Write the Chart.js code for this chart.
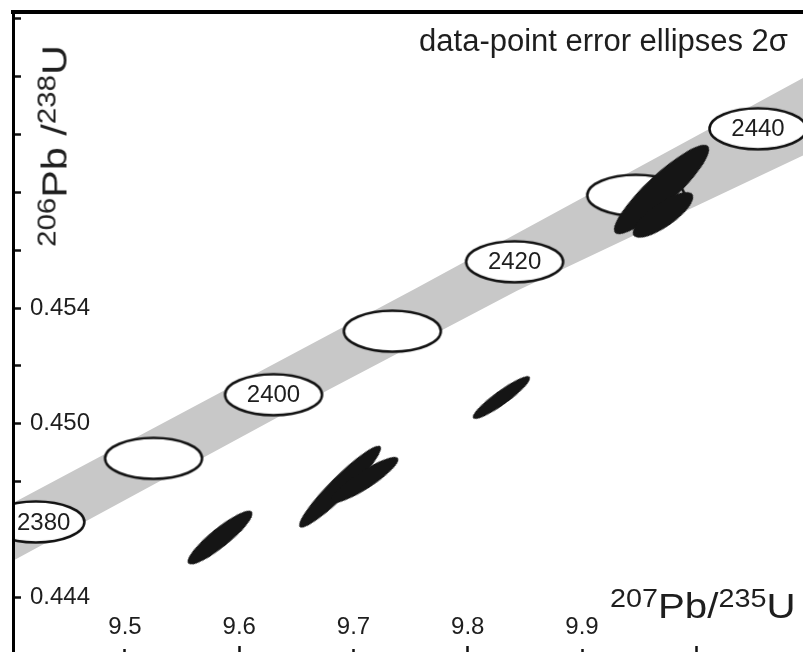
<!DOCTYPE html>
<html>
<head>
<meta charset="utf-8">
<script src="https://cdn.jsdelivr.net/npm/chart.js@4.4.1/dist/chart.umd.min.js"></script>
<style>
  html, body { margin: 0; padding: 0; background: #fff; }
  #wrap { position: relative; width: 803px; height: 652px; overflow: hidden;
          font-family: "Liberation Sans", Arial, sans-serif; color: #1e1e1e; }
  #chart { position: absolute; left: 0; top: 0; }
  .note { position: absolute; right: 15px; top: 25px; font-size: 31px; line-height: 1; white-space: nowrap; }
  .xtitle { position: absolute; left: 610px; top: 588px; font-size: 35px; line-height: 1; white-space: nowrap;
            transform: scaleX(1.15); transform-origin: left center; }
  .ytitle { position: absolute; left: 54px; top: 146px; font-size: 35px; line-height: 1; white-space: nowrap;
            transform: translate(-50%, -50%) rotate(-90deg) scaleX(1.18); }
  .xtitle sup, .ytitle sup { font-size: 25px; vertical-align: baseline; position: relative; top: -11px; }
</style>
</head>
<body>
<div id="wrap">
  <canvas id="chart" width="803" height="652"></canvas>
  <div class="note">data-point error ellipses 2σ</div>
  <div class="xtitle"><sup>207</sup>Pb/<sup>235</sup>U</div>
  <div class="ytitle"><sup>206</sup>Pb /<sup>238</sup>U</div>
</div>
<script>
// axis ranges and ticks
const xMin = 9.402, xMax = 10.0934;
const yMin = 0.44210, yMax = 0.46424;
const xTickValues = [9.5, 9.6, 9.7, 9.8, 9.9, 10.0];
const xTickLabels = ['9.5', '9.6', '9.7', '9.8', '9.9', ''];
const xMinorTicks = [9.5, 9.7, 9.9];
const yTickValues = [0.444, 0.446, 0.448, 0.450, 0.452, 0.454, 0.456, 0.458, 0.460, 0.462, 0.464];
const yLabelValues = [0.444, 0.450, 0.454];

// concordia age markers
const concordiaAges = ['2380', '', '2400', '', '2420', '', '2440'];
const concordiaX = [9.422, 9.525, 9.630, 9.734, 9.841, 9.947, 10.054];
const concordiaY = [0.4466, 0.4488, 0.4510, 0.4532, 0.4556, 0.4579, 0.4602];

// concordia uncertainty band edges
const bandUpperX = [9.39, 9.7556, 10.10];
const bandUpperY = [0.4470, 0.4547, 0.4621];
const bandLowerX = [9.39, 9.6794, 9.8431, 10.10];
const bandLowerY = [0.4450, 0.4512, 0.4546, 0.4594];

// measured data points (ellipse centres)
const spotX = [9.5832, 9.6882, 9.7096, 9.8295, 9.9696, 9.9709];
const spotY = [0.44606, 0.44782, 0.44805, 0.45090, 0.45810, 0.45722];

// ellipse shapes in pixels: [length, width, angle in degrees]
const spotShapes = [[82, 19, 39], [114, 20, 45], [80, 18, 33], [70, 14, 36], [127, 30, 43], [72, 24, 35]];

const FONT = '"Liberation Sans", Arial, sans-serif';
const near = (a, b) => Math.abs(a - b) < 1e-6;

function ellipseImage(w, h, fill, stroke, lw) {
    const c = document.createElement('canvas');
    c.width = Math.ceil(w + lw + 4);
    c.height = Math.ceil(h + lw + 4);
    const g = c.getContext('2d');
    g.beginPath();
    g.ellipse(c.width / 2, c.height / 2, w / 2, h / 2, 0, 0, Math.PI * 2);
    g.fillStyle = fill;
    g.fill();
    if (stroke) {
        g.lineWidth = lw;
        g.strokeStyle = stroke;
        g.stroke();
    }
    return c;
}

const markerImg = ellipseImage(97, 41, '#fff', '#111', 2.5);
const spotImgs = spotShapes.map(s => ellipseImage(s[0], s[1], '#151515', null, 0));
const spotRot = spotShapes.map(s => -s[2]);

const ageLabelPlugin = {
    id: 'ageLabels',
    afterDatasetsDraw(chart) {
        const meta = chart.getDatasetMeta(2);
        const area = chart.chartArea;
        const ctx = chart.ctx;
        ctx.save();
        ctx.font = '24px ' + FONT;
        ctx.fillStyle = '#1e1e1e';
        ctx.textAlign = 'center';
        ctx.textBaseline = 'middle';
        meta.data.forEach((pt, i) => {
            const text = concordiaAges[i];
            if (!text) return;
            const w = ctx.measureText(text).width;
            const x = Math.min(Math.max(pt.x, area.left + 4 + w / 2), area.right - 4 - w / 2);
            ctx.fillText(text, x, pt.y + 1);
        });
        ctx.restore();
    }
};

new Chart(document.getElementById('chart'), {
    type: 'scatter',
    data: {
        datasets: [
            {
                type: 'line',
                data: bandUpperX.map((x, i) => ({ x, y: bandUpperY[i] })),
                borderWidth: 0,
                pointRadius: 0,
                fill: '+1',
                backgroundColor: '#c8c8c8',
                order: 3
            },
            {
                type: 'line',
                data: bandLowerX.map((x, i) => ({ x, y: bandLowerY[i] })),
                borderWidth: 0,
                pointRadius: 0,
                fill: false,
                order: 3
            },
            {
                data: concordiaX.map((x, i) => ({ x, y: concordiaY[i] })),
                pointStyle: markerImg,
                pointRadius: 10,
                clip: 0,
                order: 2
            },
            {
                data: spotX.map((x, i) => ({ x, y: spotY[i] })),
                pointStyle: spotImgs,
                pointRotation: spotRot,
                pointRadius: 10,
                clip: 0,
                order: 1
            }
        ]
    },
    options: {
        responsive: false,
        animation: false,
        devicePixelRatio: 1,
        events: [],
        layout: { padding: 0, autoPadding: false },
        plugins: { legend: { display: false }, tooltip: { enabled: false } },
        scales: {
            x: {
                type: 'linear', position: 'bottom', min: xMin, max: xMax,
                afterBuildTicks: s => { s.ticks = xTickValues.map(v => ({ value: v })); },
                afterFit: s => { s.height = 0; s.paddingLeft = 0; s.paddingRight = 0; },
                border: { display: false },
                grid: {
                    drawOnChartArea: false, tickLength: -6, tickWidth: 2.5,
                    tickColor: c => (c.tick && xMinorTicks.some(v => near(v, c.tick.value))) ? 'rgba(0,0,0,0)' : '#111'
                },
                ticks: {
                    mirror: true, padding: 10, maxRotation: 0, autoSkip: false,
                    color: '#1e1e1e', font: { size: 24, family: FONT },
                    callback: (v, i) => xTickLabels[i]
                }
            },
            xMinor: {
                type: 'linear', position: 'bottom', min: xMin, max: xMax,
                afterBuildTicks: s => { s.ticks = xMinorTicks.map(v => ({ value: v })); },
                afterFit: s => { s.height = 0; s.paddingLeft = 0; s.paddingRight = 0; },
                border: { display: false },
                grid: { drawOnChartArea: false, tickLength: -3, tickWidth: 2.5, tickColor: '#111' },
                ticks: { display: false }
            },
            xTop: {
                type: 'linear', position: 'top', min: xMin, max: xMax,
                afterFit: s => { s.height = 12; s.paddingLeft = 0; s.paddingRight = 0; },
                grid: { display: false },
                ticks: { display: false },
                border: { display: true, width: 4, color: '#000', z: 1 }
            },
            y: {
                type: 'linear', position: 'left', min: yMin, max: yMax,
                afterBuildTicks: s => { s.ticks = yTickValues.map(v => ({ value: v })); },
                afterFit: s => { s.width = 13; s.paddingTop = 0; s.paddingBottom = 0; },
                border: { display: true, width: 3, color: '#000', z: 1 },
                grid: { drawOnChartArea: false, tickLength: -8, tickWidth: 2.5, tickColor: '#111' },
                ticks: {
                    mirror: true, padding: 17, autoSkip: false,
                    color: '#1e1e1e', font: { size: 24, family: FONT },
                    callback: v => yLabelValues.some(l => near(l, v)) ? v.toFixed(3) : ''
                }
            }
        }
    },
    plugins: [ageLabelPlugin]
});
</script>
</body>
</html>
